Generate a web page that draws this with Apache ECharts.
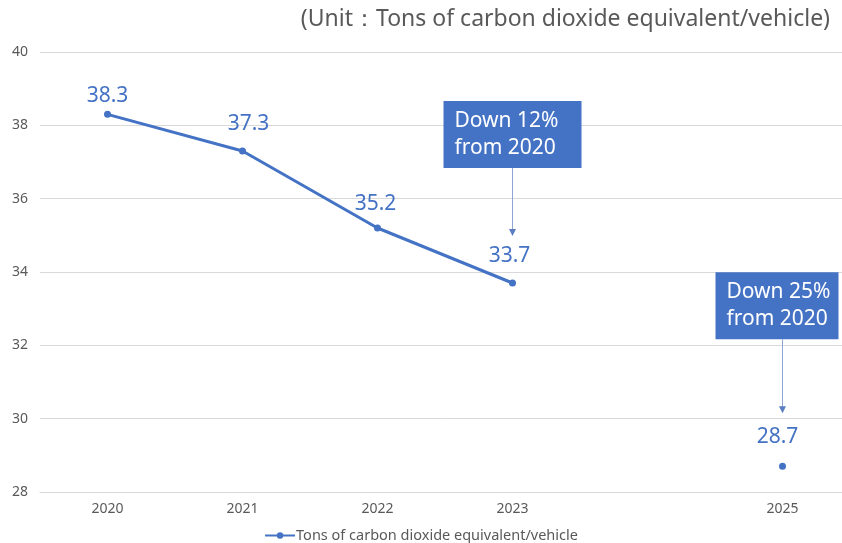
<!DOCTYPE html>
<html>
<head>
<meta charset="utf-8">
<script src="https://cdn.jsdelivr.net/npm/echarts@6/dist/echarts.min.js"></script>
<style>
  html, body { margin: 0; padding: 0; background: #fff; }
  #chart { width: 842px; height: 543px; }
</style>
</head>
<body>
<div id="chart"></div>
<script>
// Emissions per vehicle, tons CO2e
const years = ['2020', '2021', '2022', '2023', '2024', '2025'];
const emissions = [38.3, 37.3, 35.2, 33.7, null, 28.7];
const yTicks = { min: 28, max: 40, step: 2 };
const seriesName = 'Tons of carbon dioxide equivalent/vehicle';
const unitText = '(Unit\uFF1ATons of carbon dioxide equivalent/vehicle)';
const callouts = [
  { year: '2023', text: 'Down 12%\nfrom 2020' },
  { year: '2025', text: 'Down 25%\nfrom 2020' }
];

const BLUE = '#4472C4';
const GREY = '#595959';
const FONT = 'Noto Sans, Arial, sans-serif';

// per-point label nudges in pixels: [right, down]
const labelOffsets = [[0, 9], [6, 0], [-2, 3], [-3, 0], [0, 0], [-5, -2]];

const chart = echarts.init(document.getElementById('chart'), null, { renderer: 'canvas' });

const unitGraphic = {
  type: 'text',
  right: 12,
  top: 8,
  style: { text: unitText, fill: GREY, font: '23px ' + FONT }
};

chart.setOption({
  animation: false,
  backgroundColor: '#fff',
  textStyle: { fontFamily: FONT },
  grid: { left: 40, top: 52, width: 810, height: 440, outerBoundsMode: 'none', containLabel: false },
  xAxis: {
    type: 'category',
    data: years,
    boundaryGap: true,
    axisLine: { show: true, lineStyle: { color: '#d9d9d9' } },
    axisTick: { show: false },
    axisLabel: {
      color: GREY, fontSize: 14, margin: 10, fontFamily: FONT,
      formatter: v => (v === '2024' ? '' : v)
    }
  },
  yAxis: {
    type: 'value',
    min: yTicks.min, max: yTicks.max, interval: yTicks.step,
    axisLine: { show: false },
    axisTick: { show: false },
    axisLabel: { color: GREY, fontSize: 14, margin: 12, fontFamily: FONT },
    splitLine: { lineStyle: { color: '#d9d9d9', width: 1 } }
  },
  legend: {
    top: 523,
    left: 'center',
    itemWidth: 30,
    itemHeight: 8,
    textStyle: { color: GREY, fontSize: 14.5, fontFamily: FONT, padding: [0, 0, 0, -4] },
    data: [seriesName]
  },
  graphic: [unitGraphic],
  series: [{
    name: seriesName,
    type: 'line',
    data: emissions.map((v, i) => ({
      value: v,
      label: { offset: labelOffsets[i] }
    })),
    connectNulls: false,
    symbol: 'circle',
    symbolSize: 7,
    lineStyle: { color: BLUE, width: 3 },
    itemStyle: { color: BLUE },
    label: {
      show: true,
      position: 'top',
      distance: 13,
      color: BLUE,
      fontSize: 21,
      fontFamily: FONT
    }
  }]
});

// Callout boxes with arrows pointing at the 2023 and 2025 values
const boxGeom = [
  { dx: -69, w: 138, h: 67, bottomGap: 115, tipGap: 47 },
  { dx: -67, w: 123, h: 67, bottomGap: 127, tipGap: 53 }
];
const extra = [];
callouts.forEach((c, k) => {
  const idx = years.indexOf(c.year);
  const p = chart.convertToPixel({ gridIndex: 0 }, [c.year, emissions[idx]]);
  const g = boxGeom[k];
  const boxTop = p[1] - g.bottomGap - g.h;
  extra.push({
    type: 'rect',
    shape: { x: p[0] + g.dx, y: boxTop, width: g.w, height: g.h },
    style: { fill: BLUE }
  });
  extra.push({
    type: 'text',
    x: p[0] + g.dx + 11,
    y: boxTop + g.h / 2,
    style: {
      text: c.text, fill: '#fff', font: '21px ' + FONT,
      lineHeight: 27, verticalAlign: 'middle', align: 'left'
    }
  });
  extra.push({
    type: 'line',
    shape: { x1: p[0], y1: p[1] - g.bottomGap, x2: p[0], y2: p[1] - g.tipGap - 5 },
    style: { stroke: '#8ea6d4', lineWidth: 1 }
  });
  extra.push({
    type: 'polygon',
    shape: { points: [[p[0] - 3.5, p[1] - g.tipGap - 7], [p[0] + 3.5, p[1] - g.tipGap - 7], [p[0], p[1] - g.tipGap]] },
    style: { fill: '#5a7cc0' }
  });
});
chart.setOption({ graphic: [unitGraphic].concat(extra) }, { replaceMerge: ['graphic'] });
</script>
</body>
</html>
